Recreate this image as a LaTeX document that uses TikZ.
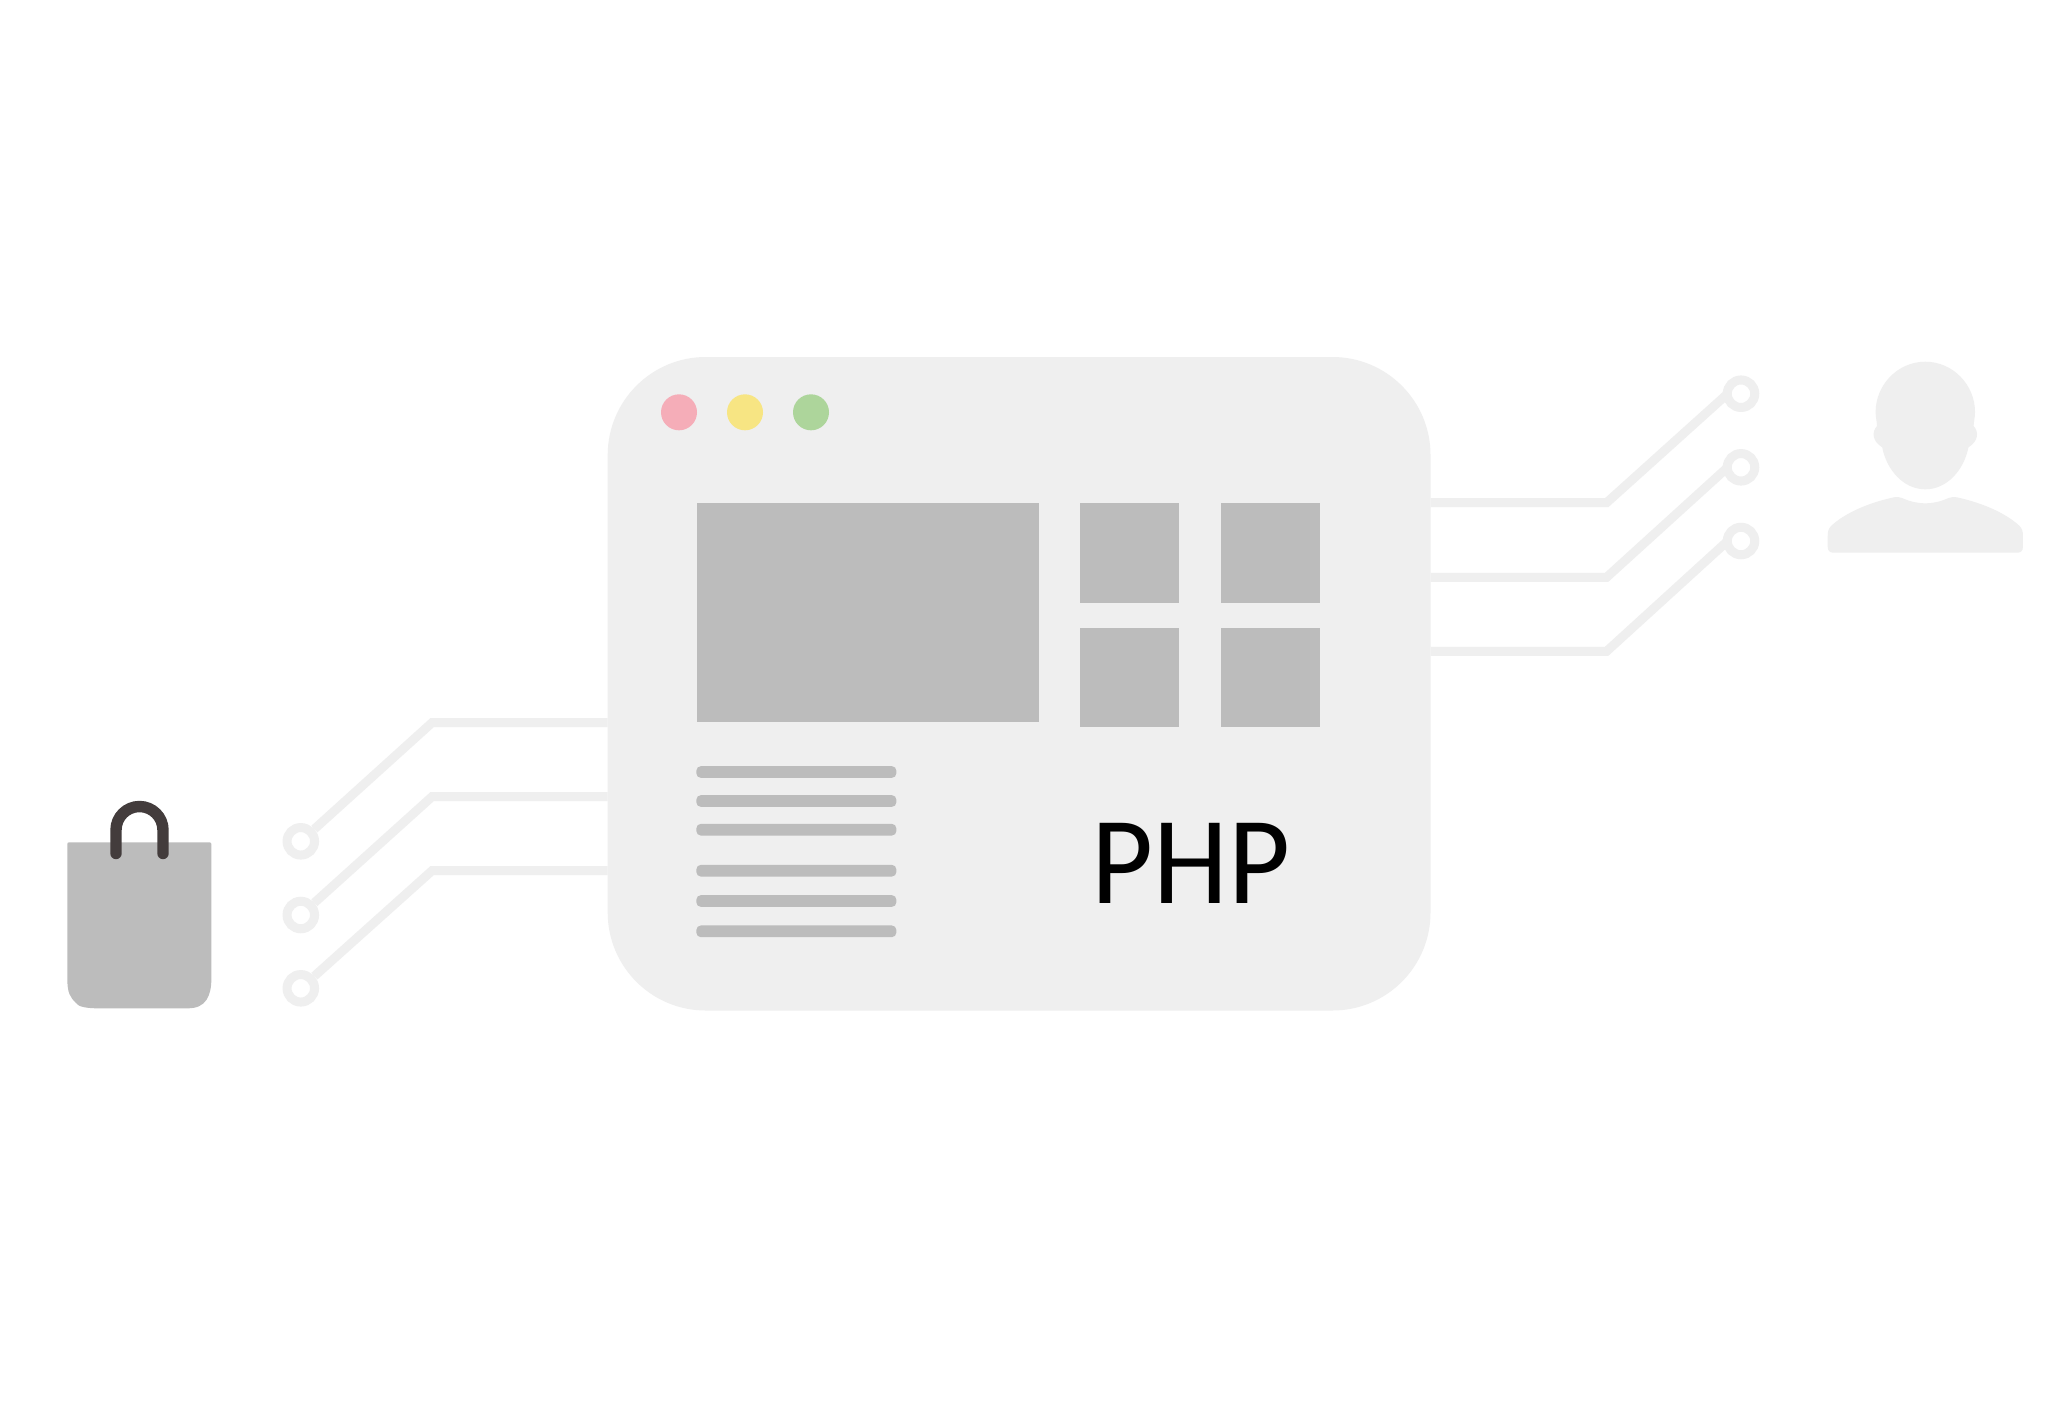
\documentclass[tikz,border=0pt]{standalone}
\usepackage{fontspec}
\newfontfamily\phpfont{Carlito}
\definecolor{panel}{HTML}{EFEFEF}
\definecolor{block}{HTML}{BCBCBC}
\definecolor{handle}{HTML}{433C3C}
\definecolor{dotred}{HTML}{F5ADB8}
\definecolor{dotyellow}{HTML}{F7E583}
\definecolor{dotgreen}{HTML}{ADD59B}
\tikzset{
  box/.style={rectangle,inner sep=0pt,outer sep=0pt,fill=block},
  win/.style={box,fill=panel,rounded corners=98pt,minimum width=822.8pt,minimum height=653.5pt},
  bar/.style={box,rounded corners=4.5pt,minimum width=200pt,minimum height=11.7pt},
  square/.style={box,minimum width=99.6pt,minimum height=99.6pt},
  ring/.style={circle,draw=panel,line width=9pt,fill=white,inner sep=0pt,outer sep=4.5pt,minimum size=27.5pt},
  dot/.style={circle,inner sep=0pt,outer sep=0pt,minimum size=36pt},
  wire/.style={draw=panel,line width=9pt,line join=miter},
}
\begin{document}
\begin{tikzpicture}[x=1pt,y=-1pt]
\useasboundingbox (0,0) rectangle (2055,1401);
\fill[white] (0,0) rectangle (2055,1401);

% window
\node[win] (window) at (1019.1,683.75) {};
\node[dot,fill=dotred] (red) at (679,412.3) {};
\node[dot,fill=dotyellow] (yellow) at (745,412.3) {};
\node[dot,fill=dotgreen] (green) at (811,412.3) {};
\node[box,minimum width=342.3pt,minimum height=219pt] (hero) at (867.85,612.5) {};
\node[square] (s1) at (1129.5,552.85) {};
\node[square] (s2) at (1270.5,552.85) {};
\node[square] (s3) at (1129.5,677.5) {};
\node[square] (s4) at (1270.5,677.5) {};
\node[bar] (b1) at (796.35,772) {};
\node[bar] (b2) at (796.35,801) {};
\node[bar] (b3) at (796.35,829.7) {};
\node[bar] (b4) at (796.35,870.7) {};
\node[bar] (b5) at (796.35,901) {};
\node[bar] (b6) at (796.35,931.3) {};
\node[inner sep=0pt,text=black,xscale=0.96] (php) at (1191,863) {\phpfont\fontsize{125}{125}\selectfont PHP};

% left connectors
\node[ring] (l1) at (300.8,841.3) {};
\node[ring] (l2) at (300.8,915) {};
\node[ring] (l3) at (300.8,988.3) {};
\coordinate (el1) at (432,722.7);
\coordinate (el2) at (432,796.7);
\coordinate (el3) at (432,870.7);
\draw[wire] (l1) -- (el1) -- (el1 -| window.west);
\draw[wire] (l2) -- (el2) -- (el2 -| window.west);
\draw[wire] (l3) -- (el3) -- (el3 -| window.west);

% right connectors
\node[ring] (r1) at (1741,393.7) {};
\node[ring] (r2) at (1741,467.3) {};
\node[ring] (r3) at (1741,541) {};
\coordinate (er1) at (1606.6,502.7);
\coordinate (er2) at (1606.6,577.3);
\coordinate (er3) at (1606.6,651.3);
\draw[wire] ([shift={(-14,0.6)}]r1.center) -- (er1) -- (er1 -| window.east);
\draw[wire] ([shift={(-14,0.6)}]r2.center) -- (er2) -- (er2 -| window.east);
\draw[wire] ([shift={(-14,0.6)}]r3.center) -- (er3) -- (er3 -| window.east);

% bag
\fill[block] (69,842.3) -- (209.5,842.3) .. controls (210.8,842.3) and (211.4,843) .. (211.4,844.5)
  -- (211.4,978) .. controls (211.4,996) and (206,1008.3) .. (188,1008.3)
  -- (98,1008.3) .. controls (88,1008.3) and (78,1007) .. (76,1003)
  .. controls (70,997) and (67.3,993) .. (67.3,978) -- (67.3,844.5) .. controls (67.3,843) and (67.8,842.3) .. (69,842.3) -- cycle;
\draw[handle,line width=11.4pt,line cap=round] (116,853.5) -- (116,830) arc[start angle=180,end angle=360,radius=23.5] -- (163,853.5);

% person
\fill[panel] (1925.3,361.7) .. controls (1953,361.7) and (1975,385) .. (1975,412)
  .. controls (1975,418) and (1973.6,422) .. (1973.6,426)
  .. controls (1979,432) and (1978.5,441) .. (1968.4,447.3)
  .. controls (1964,470) and (1947,489.3) .. (1925.3,489.3)
  .. controls (1903.6,489.3) and (1886.6,470) .. (1882.2,447.3)
  .. controls (1872.1,441) and (1871.6,432) .. (1877,426)
  .. controls (1877,422) and (1875.6,418) .. (1875.6,412)
  .. controls (1875.6,385) and (1897.6,361.7) .. (1925.3,361.7) -- cycle;
\fill[panel] (1827.7,536) .. controls (1827.7,531) and (1828.5,529) .. (1831,526)
  .. controls (1845,513) and (1868,503) .. (1893,497.5)
  .. controls (1897,496.6) and (1899,497) .. (1902,498)
  .. controls (1910,501.5) and (1917,503.3) .. (1925.3,503.3)
  .. controls (1933.6,503.3) and (1940.6,501.5) .. (1948.6,498)
  .. controls (1951.6,497) and (1953.6,496.6) .. (1957.6,497.5)
  .. controls (1982.6,503) and (2005.6,513) .. (2019.6,526)
  .. controls (2022.1,529) and (2022.9,531) .. (2022.9,536)
  -- (2022.9,547) .. controls (2022.9,551) and (2020.5,552.7) .. (2017,552.7)
  -- (1833.6,552.7) .. controls (1830.1,552.7) and (1827.7,551) .. (1827.7,547) -- cycle;
\end{tikzpicture}
\end{document}
